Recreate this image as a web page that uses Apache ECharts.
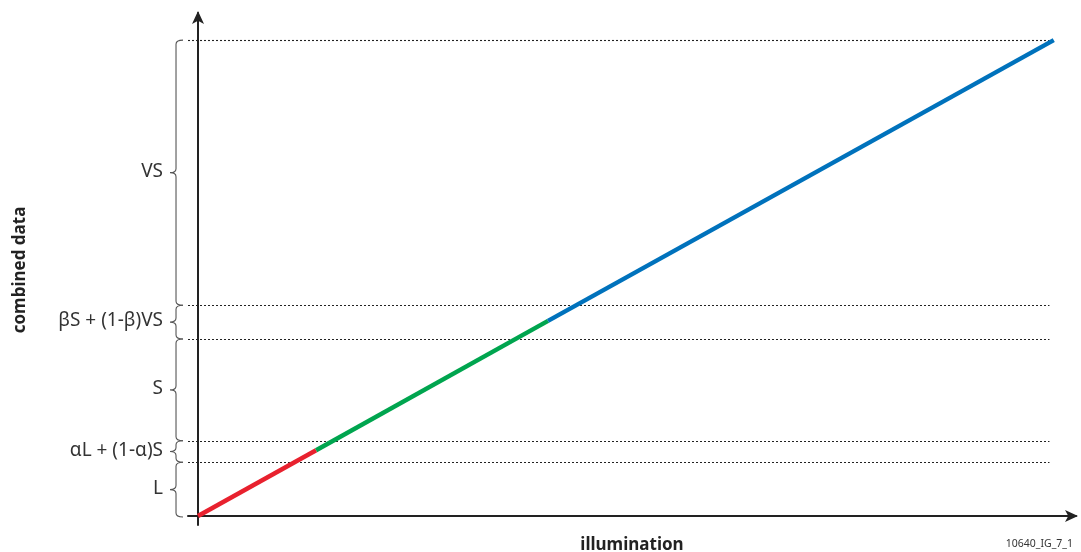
<!DOCTYPE html>
<html>
<head>
<meta charset="utf-8">
<script src="https://cdn.jsdelivr.net/npm/echarts@6/dist/echarts.min.js"></script>
<style>
  html, body { margin: 0; padding: 0; background: #fff; }
  #chart { width: 1081px; height: 552px; }
</style>
</head>
<body>
<div id="chart"></div>
<script>
// Response curve: combined data vs illumination, split into three regimes
const redSegment   = [[0, 0], [13.8, 13.8]];
const greenSegment = [[13.8, 13.8], [40.9, 41.0]];
const blueSegment  = [[40.9, 41.0], [100, 100]];

// Range boundaries on the combined-data axis (bottom to top)
const levels = [0, 11.3, 15.8, 37.2, 44.3, 100];
// One label per band between consecutive boundaries
const bandLabels = ['L', 'αL + (1-α)S', 'S', 'βS + (1-β)VS', 'VS'];

const axisTitleX = 'illumination';
const axisTitleY = 'combined data';
const figureId = '10640_IG_7_1';

const X_MIN = -1.17, X_MAX = 102.6;
const Y_MIN = -1.89, Y_MAX = 105.7;
const GUIDE_END = 99.5;

const chart = echarts.init(document.getElementById('chart'), null, { renderer: 'canvas' });

const guideLines = levels.slice(1).map(v => [
  { coord: [X_MIN, v] }, { coord: [GUIDE_END, v] }
]);

const bands = bandLabels.map((t, i) => [levels[i], levels[i + 1], t]);

function renderBrace(params, api) {
  const lo = api.value(0), hi = api.value(1);
  const label = bandLabels[params.dataIndex];
  const pBot = api.coord([0, lo]);
  const pTop = api.coord([0, hi]);
  const xAxisPos = pBot[0];
  const xV = xAxisPos - 22;   // brace spine
  const xE = xV + 7;          // end serifs
  const xT = xV - 6;          // centre tip
  const yT = pTop[1], yB = pBot[1] + (lo === 0 ? 1 : 0), yM = (yT + yB) / 2;
  const r = Math.min(4, (yB - yT) / 4);
  const path =
    'M' + xE + ' ' + yT +
    ' Q' + xV + ' ' + yT + ' ' + xV + ' ' + (yT + r) +
    ' L' + xV + ' ' + (yM - r) +
    ' Q' + xV + ' ' + yM + ' ' + xT + ' ' + yM +
    ' Q' + xV + ' ' + yM + ' ' + xV + ' ' + (yM + r) +
    ' L' + xV + ' ' + (yB - r) +
    ' Q' + xV + ' ' + yB + ' ' + xE + ' ' + yB;
  return {
    type: 'group',
    children: [
      {
        type: 'path',
        shape: { pathData: path },
        style: { fill: null, stroke: '#555', lineWidth: 1.1 }
      },
      {
        type: 'text',
        style: {
          text: label,
          x: xT - 7,
          y: yM - 1,
          align: 'right',
          verticalAlign: 'middle',
          fill: '#333',
          font: '19px "Noto Sans", sans-serif'
        }
      }
    ]
  };
}

const axisCommon = {
  type: 'value',
  axisLine: {
    show: true,
    onZero: true,
    symbol: ['none', 'arrow'],
    symbolSize: [9, 13],
    symbolOffset: [0, 2],
    lineStyle: { color: '#222', width: 2 }
  },
  axisTick: { show: false },
  axisLabel: { show: false },
  splitLine: { show: false }
};

const titleFont = 'bold 17px "Noto Sans", sans-serif';

chart.setOption({
  animation: false,
  backgroundColor: '#fff',
  grid: {
    left: 188, right: 5, top: 13, bottom: 27,
    containLabel: false,
    outerBoundsMode: 'none'
  },
  xAxis: Object.assign({}, axisCommon, { min: X_MIN, max: X_MAX }),
  yAxis: Object.assign({}, axisCommon, { min: Y_MIN, max: Y_MAX }),
  series: [
    {
      type: 'line',
      data: [],
      silent: true,
      markLine: {
        silent: true,
        symbol: ['none', 'none'],
        label: { show: false },
        lineStyle: { color: '#222', width: 1.1, type: [2, 2] },
        data: guideLines
      }
    },
    {
      type: 'custom',
      coordinateSystem: 'cartesian2d',
      clip: false,
      silent: true,
      renderItem: renderBrace,
      data: bands
    },
    {
      type: 'line', data: redSegment, symbol: 'none', silent: true,
      lineStyle: { color: '#e8212e', width: 4.5, cap: 'butt' }, z: 5
    },
    {
      type: 'line', data: greenSegment, symbol: 'none', silent: true,
      lineStyle: { color: '#00a54f', width: 4.5, cap: 'butt' }, z: 5
    },
    {
      type: 'line', data: blueSegment, symbol: 'none', silent: true,
      lineStyle: { color: '#0072bc', width: 4.5, cap: 'butt' }, z: 5
    }
  ],
  graphic: [
    {
      type: 'text',
      x: 632,
      y: 545,
      style: {
        text: axisTitleX,
        align: 'center',
        verticalAlign: 'middle',
        fill: '#222',
        font: titleFont
      }
    },
    {
      type: 'text',
      x: 20,
      y: 270,
      rotation: Math.PI / 2,
      style: {
        text: axisTitleY,
        align: 'center',
        verticalAlign: 'middle',
        fill: '#222',
        font: titleFont
      }
    },
    {
      type: 'text',
      right: 8,
      top: 539,
      style: {
        text: figureId,
        fill: '#333',
        font: '10.5px "Noto Sans", sans-serif'
      }
    }
  ]
});
</script>
</body>
</html>
